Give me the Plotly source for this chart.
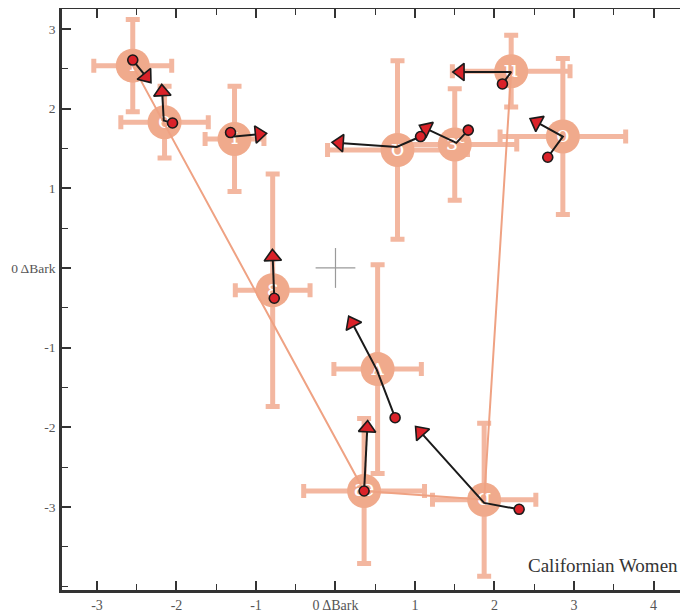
import plotly.graph_objects as go

# ---------------- data ----------------
vowels = ["i", "e", "ɪ", "ɛ", "ʊ", "ɝ", "u", "o", "ʌ", "æ", "ɑ"]
vowel_x = [-2.55, -2.15, -1.27, -0.79, 0.78, 1.50, 2.21, 2.86, 0.53, 0.36, 1.87]
vowel_y = [2.54, 1.83, 1.62, -0.28, 1.48, 1.55, 2.47, 1.65, -1.27, -2.80, -2.91]
vowel_x_err = [0.49, 0.55, 0.37, 0.47, 0.88, 0.78, 0.74, 0.79, 0.55, 0.76, 0.65]
vowel_y_err = [0.58, 0.45, 0.66, 1.46, 1.12, 0.70, 0.45, 0.98, 1.31, 0.91, 0.96]

# order of the connecting line through the corner vowels
corner_order = ["i", "æ", "ɑ", "u"]

# diphthong trajectories: onset, (turning point), offset
diph_x = [
    [-2.55, -2.38],
    [-2.05, -2.16, -2.18],
    [-1.32, -1.27, -0.96],
    [-0.77, -0.79],
    [1.07, 0.77, 0.05],
    [1.67, 1.52, 1.14],
    [2.10, 2.21, 1.57],
    [2.67, 2.86, 2.53],
    [0.75, 0.52, 0.21],
    [0.36, 0.40],
    [2.31, 1.87, 1.07],
]
diph_y = [
    [2.61, 2.40],
    [1.82, 1.85, 2.21],
    [1.70, 1.65, 1.68],
    [-0.38, 0.14],
    [1.65, 1.52, 1.57],
    [1.73, 1.57, 1.75],
    [2.31, 2.46, 2.46],
    [1.39, 1.65, 1.83],
    [-1.88, -1.28, -0.69],
    [-2.80, -2.01],
    [-3.03, -2.95, -2.06],
]

x_tickvals = [-3, -2, -1, 0, 1, 2, 3, 4]
x_ticktext = ["-3", "-2", "-1", "0 ΔBark", "1", "2", "3", "4"]
y_tickvals = [3, 2, 1, 0, -1, -2, -3]
y_ticktext = ["3", "2", "1", "0 ΔBark", "-1", "-2", "-3"]

cross_center = (0, 0)
cross_arm = 0.25
panel_label = "Californian Women"

# ---------------- styles ----------------
SALMON = "#F0AA8C"
SALMON_BAR = "#F3B7A0"
RED = "#DA2229"
INK = "#1a1a1a"
AXIS = "#333333"
SERIF = "Liberation Serif"

fig = go.Figure()

# crosshair at origin
cx, cy = cross_center
fig.add_trace(go.Scatter(
    x=[cx - cross_arm, cx + cross_arm, None, cx, cx],
    y=[cy, cy, None, cy - cross_arm, cy + cross_arm],
    mode="lines", line=dict(color="#9a9a9a", width=1.2),
    hoverinfo="skip", showlegend=False))

# vowel means with error bars
fig.add_trace(go.Scatter(
    x=vowel_x, y=vowel_y, mode="markers+text", text=vowels,
    textposition="middle center",
    textfont=dict(family="DejaVu Serif", size=22, color="white"),
    marker=dict(size=34, color=SALMON, line=dict(width=0)),
    error_x=dict(type="data", array=vowel_x_err, color=SALMON_BAR, thickness=5, width=7),
    error_y=dict(type="data", array=vowel_y_err, color=SALMON_BAR, thickness=5, width=7),
    hoverinfo="skip", showlegend=False))

# connecting line
idx = [vowels.index(v) for v in corner_order]
fig.add_trace(go.Scatter(
    x=[vowel_x[i] for i in idx], y=[vowel_y[i] for i in idx],
    mode="lines", line=dict(color="#EFA283", width=2),
    hoverinfo="skip", showlegend=False))

# diphthong arrows
for xs, ys in zip(diph_x, diph_y):
    n = len(xs)
    sizes = [0] * (n - 1) + [15]
    fig.add_trace(go.Scatter(
        x=xs, y=ys, mode="lines+markers",
        line=dict(color=INK, width=2),
        marker=dict(symbol="triangle-up", size=sizes, color=RED, opacity=1,
                    angleref="previous", line=dict(color=INK, width=1.6)),
        hoverinfo="skip", showlegend=False))

# onset dots
fig.add_trace(go.Scatter(
    x=[xs[0] for xs in diph_x], y=[ys[0] for ys in diph_y], mode="markers",
    marker=dict(symbol="circle", size=10, color=RED, line=dict(color=INK, width=1.6)),
    hoverinfo="skip", showlegend=False))

# invisible trace for the right-hand tick column
fig.add_trace(go.Scatter(x=[0], y=[0], yaxis="y2", mode="markers",
                         marker=dict(opacity=0), hoverinfo="skip", showlegend=False))

fig.add_annotation(x=4.33, y=-3.74, xref="x", yref="y", text=panel_label,
                   showarrow=False, xanchor="right", yanchor="middle",
                   font=dict(family=SERIF, size=19, color="#333333"))

xr = [-3.44, 4.434]
yr = [-4.043, 3.251]

fig.update_layout(
    width=680, height=604,
    margin=dict(l=54, r=0, t=1, b=22, autoexpand=False),
    plot_bgcolor="white", paper_bgcolor="white",
    xaxis=dict(range=xr, tickvals=x_tickvals, ticktext=x_ticktext, automargin=False,
               showgrid=False, zeroline=False, showline=True, linecolor=AXIS, linewidth=2.5,
               mirror="ticks", ticks="inside", ticklen=9, tickwidth=1.5, tickcolor=AXIS,
               minor=dict(dtick=0.5, ticks="inside", ticklen=6, tickwidth=1.2, tickcolor=AXIS),
               tickfont=dict(family=SERIF, size=14, color="#555555")),
    yaxis=dict(range=yr, tickvals=y_tickvals, ticktext=y_ticktext, automargin=False,
               ticklabelstandoff=1,
               showgrid=False, zeroline=False, showline=True, linecolor=AXIS, linewidth=2.5,
               ticks="inside", ticklen=9, tickwidth=1.5, tickcolor=AXIS,
               minor=dict(dtick=0.5, ticks="inside", ticklen=6, tickwidth=1.2, tickcolor=AXIS),
               tickfont=dict(family=SERIF, size=13.5, color="#555555")),
    yaxis2=dict(range=yr, overlaying="y", side="right", tickvals=y_tickvals, automargin=False,
                showticklabels=False, showgrid=False, zeroline=False, showline=False,
                ticks="inside", ticklen=7, tickwidth=1.5, tickcolor=AXIS,
                minor=dict(dtick=0.5, ticks="inside", ticklen=4, tickwidth=1, tickcolor="#cccccc")),
)

fig.write_html("out.html")
